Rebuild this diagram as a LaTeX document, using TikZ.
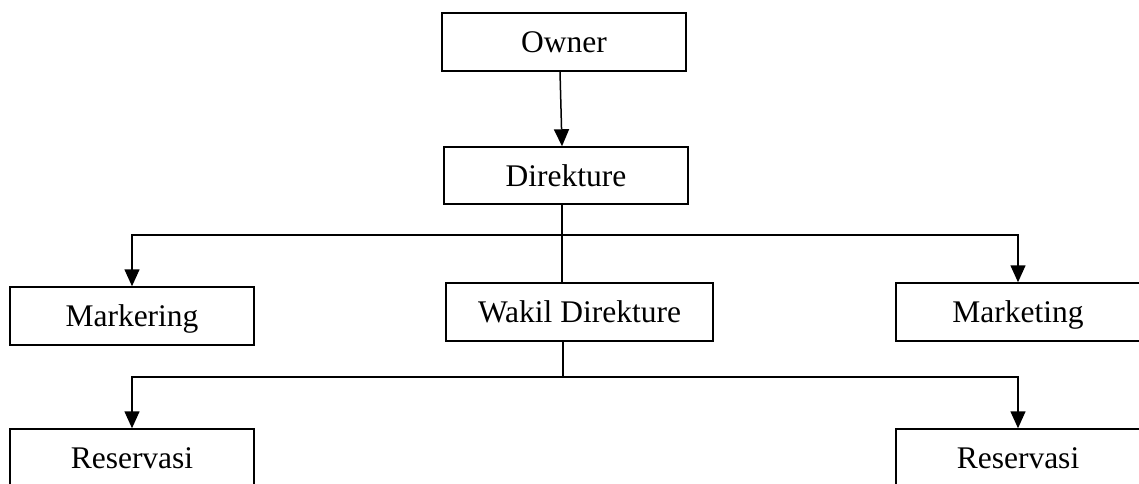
\documentclass[tikz,border=0pt]{standalone}
\usepackage{fontspec}
\setmainfont{Liberation Serif}
\usetikzlibrary{arrows.meta}
\tikzset{
    org-box/.style = {draw=black, fill=white, line width=1.5pt, rectangle, minimum width=244pt, minimum height=58pt, inner sep=0pt, text height=21pt, text depth=0pt, font=\fontsize{31.5}{38}\selectfont},
    org-arrow/.style = {line width=1.5pt, -{Triangle[length=17pt,width=15pt]}},
    org-line/.style = {line width=1.5pt},
}

\begin{document}
\begin{tikzpicture}
\useasboundingbox (0,0) rectangle (1139pt,-483pt);
\node [org-box] (owner) at (564pt,-42pt) {Owner};
\node [org-box, minimum height=57pt] (direktur) at (566pt,-175.5pt) {Direkture};
\node [org-box] (markering) at (132pt,-316pt) {Markering};
\node [org-box, minimum width=267pt] (wakil) at (579.5pt,-312pt) {Wakil Direkture};
\node [org-box] (marketing) at (1018pt,-312pt) {Marketing};
\node [org-box] (reservasi-l) at (132pt,-458pt) {Reservasi};
\node [org-box] (reservasi-r) at (1018pt,-458pt) {Reservasi};

\coordinate (split-top) at (562pt,-235pt);
\coordinate (split-bot) at (563pt,-377pt);

% owner to direkture
\draw [org-arrow] ([xshift=-4pt]owner.south) -- ([xshift=-4pt]direktur.north);
% direkture down to wakil, branches
\draw [org-line] ([xshift=-4pt]direktur.south) -- ([xshift=-4pt]direktur.south |- wakil.north);
\draw [org-arrow] (split-top) -| (markering.north);
\draw [org-arrow] (split-top) -| (marketing.north);
% wakil to reservasi
\draw [org-line] (split-bot |- wakil.south) -- (split-bot);
\draw [org-arrow] (split-bot) -| (reservasi-l.north);
\draw [org-arrow] (split-bot) -| (reservasi-r.north);
\end{tikzpicture}
\end{document}
